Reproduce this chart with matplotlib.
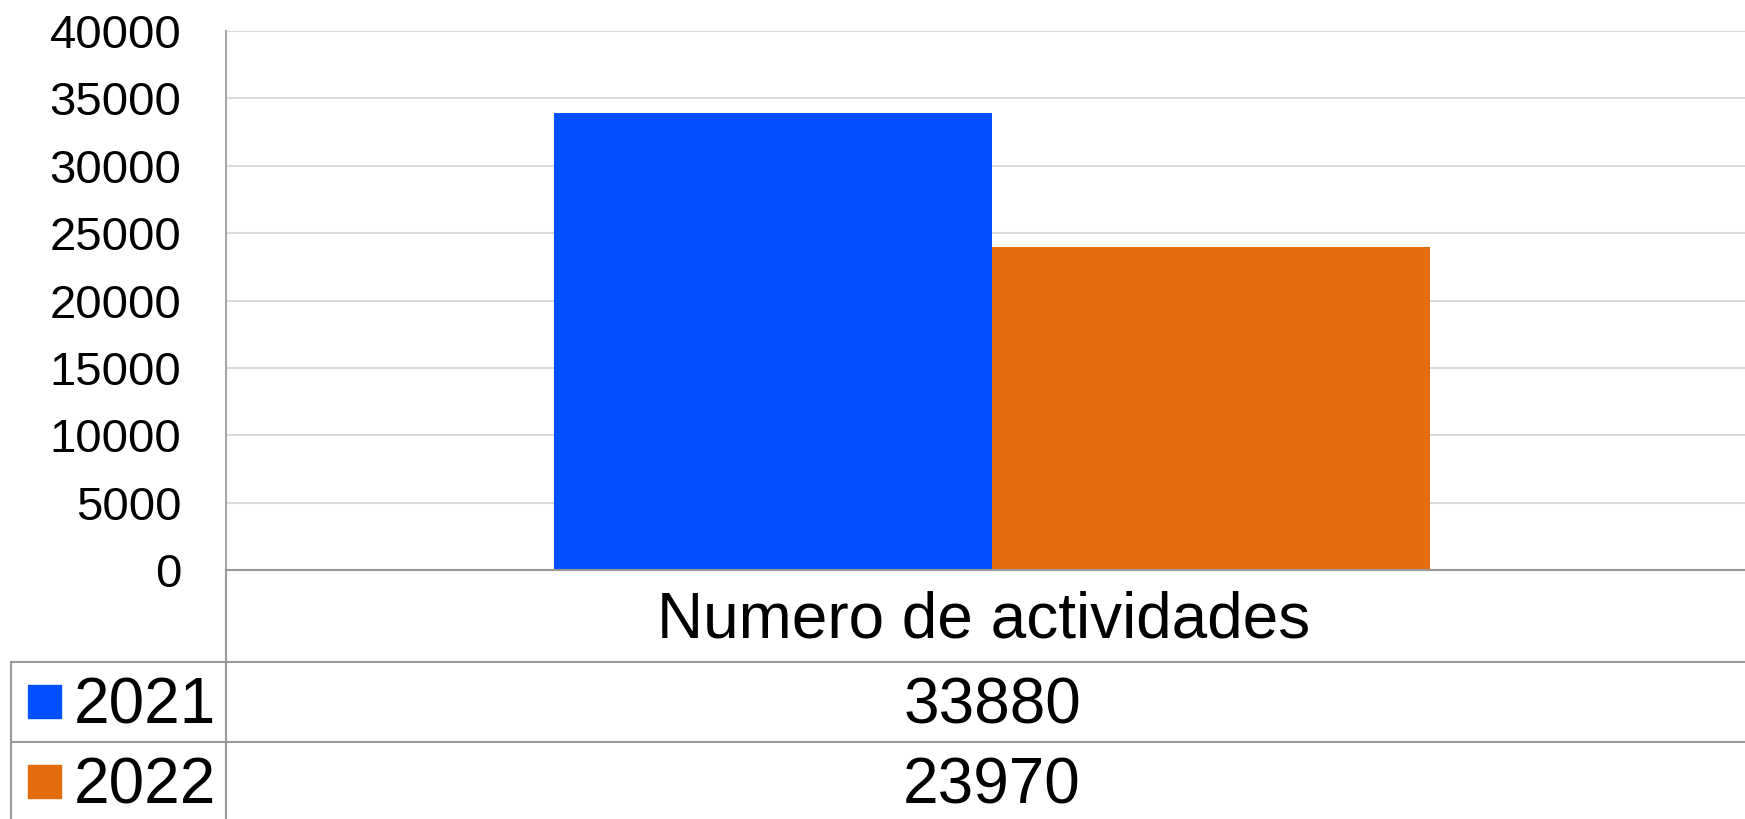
import matplotlib
matplotlib.use('Agg')
import matplotlib.pyplot as plt
from matplotlib.lines import Line2D
from matplotlib.patches import Rectangle

plt.rcParams['font.family'] = ['Liberation Sans', 'DejaVu Sans']

category = 'Numero de actividades'
years = ['2021', '2022']
values = [33880, 23970]
colors = ['#0050FF', '#E36C0C']

W, H = 1745, 819
fig = plt.figure(figsize=(W / 100, H / 100), dpi=100)

def fx(px):
    return px / W

def fy(py):
    return 1 - py / H

# main chart area (pixel box: x 226..1745, y 31..570)
ax = fig.add_axes([fx(226), fy(570), fx(1745 - 226), (570 - 31) / H])
w = 0.2883
for i, (yr, v) in enumerate(zip(years, values)):
    ax.bar((i - 0.5) * w, v, width=w, color=colors[i], zorder=3)
ax.set_xlim(-0.5043, 0.4957)
ax.set_ylim(0, 40000)
ax.set_yticks(range(0, 40001, 5000))
ax.set_xticks([])
ax.tick_params(axis='y', length=0, pad=32, labelsize=34)
ax.yaxis.grid(True, color='#d9d9d9', linewidth=1.5, zorder=0)
for s in ['top', 'right', 'bottom']:
    ax.spines[s].set_visible(False)
ax.spines['left'].set_color('#a6a6a6')
ax.spines['left'].set_linewidth(1.5)

# data table under the chart
lc = '#999999'
lines = [
    ([226, W], [570, 570]),
    ([11, W], [662, 662]),
    ([11, W], [742, 742]),
    ([226, 226], [570, H]),
    ([11, 11], [662, H]),
]
for xs, ys in lines:
    fig.add_artist(Line2D([fx(x) for x in xs], [fy(y) for y in ys],
                          color=lc, linewidth=1.5, transform=fig.transFigure))

fs = 46
fig.text(fx(984), fy(637), category, fontsize=fs, ha='center', va='baseline')
baselines = [723, 803]
squares = [685, 765]
for i, (yr, v) in enumerate(zip(years, values)):
    fig.add_artist(Rectangle((fx(28), fy(squares[i] + 33)), fx(33), 33 / H,
                             color=colors[i], transform=fig.transFigure))
    fig.text(fx(74), fy(baselines[i]), yr, fontsize=fs, ha='left', va='baseline')
    fig.text(fx(992), fy(baselines[i]), str(v), fontsize=fs, ha='center', va='baseline')

fig.savefig('out.png', dpi=100)
